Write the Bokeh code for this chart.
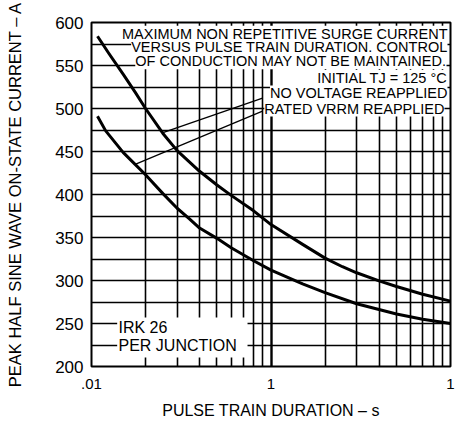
import math
from bokeh.plotting import figure
from bokeh.models import FixedTicker, Label, BoxAnnotation
from bokeh.embed import file_html
from bokeh.resources import INLINE

# ---- data ----
duration_nv_s = [0.0108, 0.0125, 0.015, 0.0175, 0.02, 0.025, 0.03, 0.04, 0.05, 0.06,
                 0.08, 0.1, 0.15, 0.2, 0.25, 0.3, 0.4, 0.5, 0.7, 1.0]
no_voltage_A = [584, 564, 540, 519, 500, 471, 451, 427, 411, 399,
                381, 365, 342, 326, 316, 309, 299.5, 293, 284, 276]

duration_rv_s = [0.0108, 0.012, 0.015, 0.0175, 0.02, 0.025, 0.03, 0.035, 0.04, 0.05,
                 0.06, 0.08, 0.1, 0.15, 0.2, 0.3, 0.5, 0.7, 1.0]
rated_vrrm_A = [491, 474, 449, 435, 423, 401, 384, 372, 361, 349,
                338, 323, 312, 296, 286, 273, 261, 255, 250]

leader_nv_x = [0.025, 0.0897]
leader_nv_y = [472, 512]
leader_rv_x = [0.0175, 0.0897]
leader_rv_y = [435, 497]

x_ticks = [0.01, 0.1, 1.0]
x_tick_labels = [".01", "1", "1"]
x_minor = [0.02, 0.03, 0.04, 0.05, 0.06, 0.07, 0.08, 0.09,
           0.2, 0.3, 0.4, 0.5, 0.6, 0.7, 0.8, 0.9]
y_ticks = [200, 250, 300, 350, 400, 450, 500, 550, 600]
y_minor = [225, 275, 325, 375, 425, 475, 525, 575]

FONT = "Liberation Sans"

p = figure(width=456, height=421, x_axis_type="log",
           x_range=(0.01, 1), y_range=(200, 600),
           output_backend="svg", toolbar_location=None,
           min_border_left=91, min_border_right=6,
           min_border_top=22, min_border_bottom=55)

p.outline_line_color = "black"
p.outline_line_width = 2
p.background_fill_color = "white"
p.border_fill_color = "white"

p.xaxis.ticker = FixedTicker(ticks=x_ticks, minor_ticks=x_minor)
p.yaxis.ticker = FixedTicker(ticks=y_ticks, minor_ticks=y_minor)
p.xaxis.major_label_overrides = {t: s for t, s in zip(x_ticks, x_tick_labels)}

for ax in (p.xaxis, p.yaxis):
    ax.axis_line_color = None
    ax.major_tick_line_color = None
    ax.minor_tick_line_color = None
    ax.major_tick_out = 0
    ax.minor_tick_out = 0
    ax.major_label_text_font = FONT
    ax.major_label_text_color = "black"
    ax.axis_label_text_font = FONT
    ax.axis_label_text_font_style = "normal"
    ax.axis_label_text_color = "black"
p.xaxis.major_label_text_font_size = "15px"
p.xaxis.major_label_standoff = 12
p.yaxis.major_label_text_font_size = "17px"
p.yaxis.major_label_standoff = 8

p.xaxis.axis_label = "PULSE TRAIN DURATION – s"
p.xaxis.axis_label_text_font_size = "16px"
p.xaxis.axis_label_standoff = 10

p.yaxis.axis_label = "PEAK HALF SINE WAVE ON-STATE CURRENT – A"
p.yaxis.axis_label_text_font_size = "16.5px"
p.yaxis.axis_label_standoff = 28

p.xgrid.grid_line_color = "black"
p.xgrid.grid_line_width = 2.4
p.xgrid.minor_grid_line_color = "black"
p.xgrid.minor_grid_line_width = 1.6
p.ygrid.grid_line_color = "black"
p.ygrid.grid_line_width = 1.6
p.ygrid.minor_grid_line_color = "black"
p.ygrid.minor_grid_line_width = 1.6

p.line(duration_nv_s, no_voltage_A, line_color="black", line_width=3, line_join="round")
p.line(duration_rv_s, rated_vrrm_A, line_color="black", line_width=3, line_join="round")
p.line(leader_nv_x, leader_nv_y, line_color="black", line_width=1.3)
p.line(leader_rv_x, leader_rv_y, line_color="black", line_width=1.3)

# white area behind the type label block
p.add_layout(BoxAnnotation(left=0.0139, right=0.074, bottom=210.5, top=257,
                           fill_color="white", fill_alpha=1, line_alpha=0))

def note(text, x, y, align="right", xoff=0, size="14.5px"):
    p.add_layout(Label(x=x, y=y, text=text, text_align=align, text_baseline="middle",
                       x_offset=xoff, text_font=FONT, text_font_size=size,
                       text_color="black", background_fill_color="white",
                       background_fill_alpha=1, padding=0))

note("MAXIMUM NON REPETITIVE SURGE CURRENT", 1.0, 587, xoff=-3)
note("VERSUS PULSE TRAIN DURATION. CONTROL", 1.0, 571, xoff=-3)
note("OF CONDUCTION MAY NOT BE MAINTAINED.", 1.0, 555, xoff=-4)
note("INITIAL TJ = 125 °C", 1.0, 535.5, xoff=-3)
note("NO VOLTAGE REAPPLIED", 1.0, 517.5, xoff=-3)
note("RATED VRRM REAPPLIED", 1.0, 500, xoff=-6)
note("IRK 26", 0.01414, 245.5, align="left", size="16px")
note("PER JUNCTION", 0.01414, 224.5, align="left", size="16px")

open("out.html", "w").write(file_html(p, INLINE))
